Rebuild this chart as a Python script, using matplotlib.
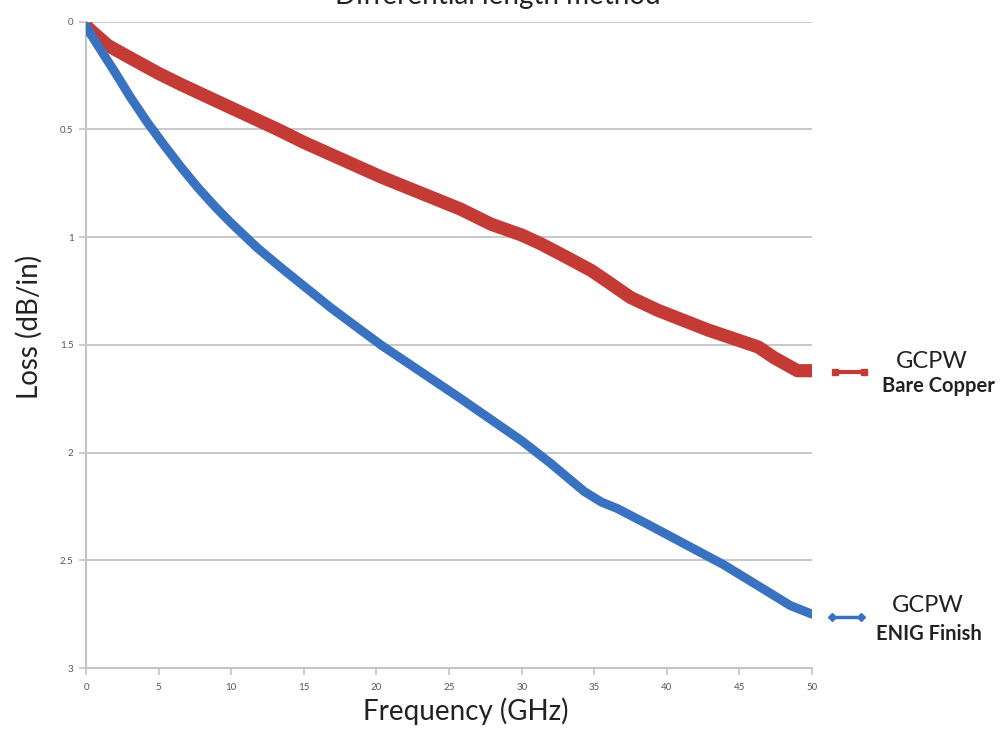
import matplotlib
matplotlib.use("Agg")
import matplotlib.pyplot as plt
from matplotlib.lines import Line2D
from matplotlib.ticker import FuncFormatter

plt.rcParams['font.family'] = ['Lato', 'DejaVu Sans']

freq_copper = [0, 0.4, 1.5, 3.1, 5, 6.5, 10, 13.2, 15, 20.3, 25.8, 27.9, 30, 31.3,
               33, 34.8, 36, 37.5, 39.4, 42.8, 46.3, 47.4, 49, 50]
loss_copper = [0.02, 0.045, 0.11, 0.17, 0.24, 0.29, 0.40, 0.50, 0.56, 0.72, 0.87,
               0.94, 0.99, 1.03, 1.09, 1.155, 1.21, 1.28, 1.34, 1.43, 1.51, 1.56,
               1.62, 1.62]

freq_enig = [0, 0.34, 1.95, 3.1, 4.25, 5.4, 6.54, 7.7, 8.84, 10, 11.8, 13.4, 16.9,
             20.3, 25.6, 30, 32, 34.3, 35.5, 36.6, 38.6, 43.9, 47.3, 48.5, 50]
loss_enig = [0.02, 0.06, 0.23, 0.355, 0.47, 0.575, 0.675, 0.77, 0.855, 0.935, 1.05,
             1.14, 1.33, 1.50, 1.74, 1.945, 2.05, 2.18, 2.23, 2.26, 2.33, 2.52,
             2.66, 2.71, 2.75]

x_ticks = [0, 5, 10, 15, 20, 25, 30, 35, 40, 45, 50]
y_ticks = [0, 0.5, 1, 1.5, 2, 2.5, 3]

red = '#C43B36'
blue = '#3A72C2'
grey = '#C4C4C4'

fig = plt.figure(figsize=(10.04, 7.34), dpi=100)
ax = fig.add_axes([0.0857, 0.0899, 0.7231, 0.8805])

ax.plot(freq_copper, loss_copper, color=red, lw=9.5, solid_capstyle='butt',
        solid_joinstyle='round', zorder=3)
ax.plot(freq_enig, loss_enig, color=blue, lw=6.5, solid_capstyle='round',
        solid_joinstyle='round', zorder=3)

ax.set_xlim(0, 50)
ax.set_ylim(3, 0)
ax.set_xticks(x_ticks)
ax.set_yticks(y_ticks)
ax.yaxis.set_major_formatter(FuncFormatter(lambda v, p: '%g' % v))
ax.grid(axis='y', color=grey, lw=1.3)
ax.set_axisbelow(True)
for side in ['top', 'right']:
    ax.spines[side].set_visible(False)
for side in ['left', 'bottom']:
    ax.spines[side].set_color(grey)
    ax.spines[side].set_linewidth(1.5)
ax.tick_params(axis='both', colors=grey, length=5, width=1.2, labelsize=7)
ax.tick_params(axis='both', labelcolor='#555555')
ax.tick_params(axis='x', pad=6)
ax.tick_params(axis='y', pad=4)

ax.set_xlabel('Frequency (GHz)', fontsize=20, color='#222222')
ax.set_ylabel('Loss (dB/in)', fontsize=20, color='#222222')
ax.xaxis.set_label_coords(0.523, -0.045)
ax.yaxis.set_label_coords(-0.06, 0.527)

# title sits mostly above the top edge, as in the reference
fig.text(0.496, 1 - 4 / 734, 'Differential length method', fontsize=20,
         ha='center', va='baseline', color='#222222')

# legend entries on the right
fig.add_artist(Line2D([835 / 1004, 864 / 1004], [1 - 372 / 734] * 2, color=red, lw=3,
                      marker='s', markersize=5, transform=fig.transFigure))
fig.text(932 / 1004, 1 - 361 / 734, 'GCPW', fontsize=17, ha='center', va='center',
         color='#222222')
fig.text(938 / 1004, 1 - 386 / 734, 'Bare Copper', fontsize=14.5, fontweight='bold',
         ha='center', va='center', color='#222222')

fig.add_artist(Line2D([832 / 1004, 861 / 1004], [1 - 617 / 734] * 2, color=blue, lw=2.5,
                      marker='D', markersize=4, transform=fig.transFigure))
fig.text(928 / 1004, 1 - 605 / 734, 'GCPW', fontsize=17, ha='center', va='center',
         color='#222222')
fig.text(929 / 1004, 1 - 634 / 734, 'ENIG Finish', fontsize=14.5, fontweight='bold',
         ha='center', va='center', color='#222222')

fig.savefig('out.png', dpi=100)
